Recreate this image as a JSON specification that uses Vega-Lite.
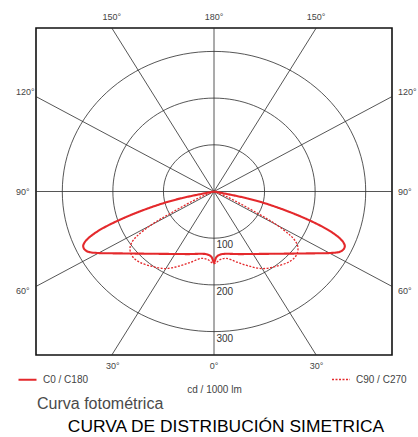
{
  "$schema": "https://vega.github.io/schema/vega-lite/v6.json",
  "autosize": {"type": "none"},
  "width": 356,
  "height": 327,
  "padding": {"left": 36, "top": 28, "right": 26, "bottom": 82},
  "background": "white",
  "config": {
    "view": {"stroke": "#111111", "strokeWidth": 1.6},
    "text": {"font": "Liberation Sans"},
    "axisX": {
      "labels": false, "ticks": false, "domain": false, "grid": false,
      "titleFont": "Liberation Sans", "titleFontSize": 10, "titleFontWeight": "normal",
      "titleColor": "#444444", "titlePadding": 29, "titleBaseline": "top"
    }
  },
  "title": {
    "text": "CURVA DE DISTRIBUCIÓN SIMETRICA",
    "orient": "bottom",
    "anchor": "middle",
    "frame": "group",
    "font": "Liberation Sans",
    "fontSize": 17.4,
    "fontWeight": "normal",
    "color": "#000000",
    "baseline": "alphabetic",
    "offset": 20,
    "dx": 12
  },
  "layer": [
    {
      "data": {"values": [{"r": 100}, {"r": 200}, {"r": 300}]},
      "mark": {
        "type": "point",
        "shape": "M 1 0 C 1 0.5101 0.5523 0.9235 0 0.9235 C -0.5523 0.9235 -1 0.5101 -1 0 C -1 -0.5101 -0.5523 -0.9235 0 -0.9235 C 0.5523 -0.9235 1 -0.5101 1 0 Z",
        "filled": false,
        "color": "#2b2b2b",
        "strokeWidth": 0.8,
        "opacity": 1
      },
      "encoding": {
        "x": {"datum": 0, "type": "quantitative", "scale": {"domain": [-352, 352], "nice": false, "zero": false}, "title": "cd / 1000 lm"},
        "y": {"datum": 0, "type": "quantitative", "scale": {"domain": [-350, 350], "nice": false, "zero": false}, "axis": null},
        "size": {"field": "r", "type": "quantitative", "scale": {"type": "pow", "exponent": 2, "domain": [0, 300], "range": [0, 92064]}, "legend": null}
      }
    },
    {
      "data": {"values": [
        {"x": 0, "y": -350, "x2": 0, "y2": 350},
        {"x": -202.1, "y": -350, "x2": 202.1, "y2": 350},
        {"x": 202.1, "y": -350, "x2": -202.1, "y2": 350},
        {"x": -352, "y": -203.2, "x2": 352, "y2": 203.2},
        {"x": 352, "y": -203.2, "x2": -352, "y2": 203.2},
        {"x": -352, "y": 0, "x2": 352, "y2": 0}
      ]},
      "mark": {"type": "rule", "color": "#2b2b2b", "strokeWidth": 0.8},
      "encoding": {
        "x": {"field": "x", "type": "quantitative", "title": "cd / 1000 lm"},
        "y": {"field": "y", "type": "quantitative", "axis": null},
        "x2": {"field": "x2"},
        "y2": {"field": "y2"}
      }
    },
    {
      "data": {"values": [
        {"series": "C0 / C180", "i": 1, "x": 0, "y": 0},
        {"series": "C0 / C180", "i": 2, "x": -67, "y": -15},
        {"series": "C0 / C180", "i": 3, "x": -117, "y": -31},
        {"series": "C0 / C180", "i": 4, "x": -180, "y": -57.5},
        {"series": "C0 / C180", "i": 5, "x": -229, "y": -84.4},
        {"series": "C0 / C180", "i": 6, "x": -250.5, "y": -102},
        {"series": "C0 / C180", "i": 7, "x": -256.5, "y": -110},
        {"series": "C0 / C180", "i": 8, "x": -258.7, "y": -117},
        {"series": "C0 / C180", "i": 9, "x": -256, "y": -124},
        {"series": "C0 / C180", "i": 10, "x": -249, "y": -129},
        {"series": "C0 / C180", "i": 11, "x": -232, "y": -131.5},
        {"series": "C0 / C180", "i": 12, "x": -185, "y": -132.5},
        {"series": "C0 / C180", "i": 13, "x": -120, "y": -133.3},
        {"series": "C0 / C180", "i": 14, "x": -54, "y": -134},
        {"series": "C0 / C180", "i": 15, "x": -14, "y": -134.5},
        {"series": "C0 / C180", "i": 16, "x": -5, "y": -140},
        {"series": "C0 / C180", "i": 17, "x": 0, "y": -152},
        {"series": "C0 / C180", "i": 18, "x": 5, "y": -140},
        {"series": "C0 / C180", "i": 19, "x": 14, "y": -134.5},
        {"series": "C0 / C180", "i": 20, "x": 54, "y": -134},
        {"series": "C0 / C180", "i": 21, "x": 120, "y": -133.3},
        {"series": "C0 / C180", "i": 22, "x": 185, "y": -132.5},
        {"series": "C0 / C180", "i": 23, "x": 232, "y": -131.5},
        {"series": "C0 / C180", "i": 24, "x": 249, "y": -129},
        {"series": "C0 / C180", "i": 25, "x": 256, "y": -124},
        {"series": "C0 / C180", "i": 26, "x": 258.7, "y": -117},
        {"series": "C0 / C180", "i": 27, "x": 256.5, "y": -110},
        {"series": "C0 / C180", "i": 28, "x": 250.5, "y": -102},
        {"series": "C0 / C180", "i": 29, "x": 229, "y": -84.4},
        {"series": "C0 / C180", "i": 30, "x": 180, "y": -57.5},
        {"series": "C0 / C180", "i": 31, "x": 117, "y": -31},
        {"series": "C0 / C180", "i": 32, "x": 67, "y": -15},
        {"series": "C0 / C180", "i": 33, "x": 0, "y": 0},
        {"series": "C90 / C270", "i": 1, "x": 0, "y": 0},
        {"series": "C90 / C270", "i": 2, "x": -25, "y": -11},
        {"series": "C90 / C270", "i": 3, "x": -85, "y": -46},
        {"series": "C90 / C270", "i": 4, "x": -122, "y": -70},
        {"series": "C90 / C270", "i": 5, "x": -152, "y": -95},
        {"series": "C90 / C270", "i": 6, "x": -163, "y": -110},
        {"series": "C90 / C270", "i": 7, "x": -166, "y": -120},
        {"series": "C90 / C270", "i": 8, "x": -165, "y": -131},
        {"series": "C90 / C270", "i": 9, "x": -159, "y": -142},
        {"series": "C90 / C270", "i": 10, "x": -146, "y": -152},
        {"series": "C90 / C270", "i": 11, "x": -120, "y": -161},
        {"series": "C90 / C270", "i": 12, "x": -96, "y": -165},
        {"series": "C90 / C270", "i": 13, "x": -70, "y": -160},
        {"series": "C90 / C270", "i": 14, "x": -45, "y": -151},
        {"series": "C90 / C270", "i": 15, "x": -24, "y": -143},
        {"series": "C90 / C270", "i": 16, "x": -12, "y": -146},
        {"series": "C90 / C270", "i": 17, "x": 0, "y": -154.5},
        {"series": "C90 / C270", "i": 18, "x": 12, "y": -146},
        {"series": "C90 / C270", "i": 19, "x": 24, "y": -143},
        {"series": "C90 / C270", "i": 20, "x": 45, "y": -151},
        {"series": "C90 / C270", "i": 21, "x": 70, "y": -160},
        {"series": "C90 / C270", "i": 22, "x": 96, "y": -165},
        {"series": "C90 / C270", "i": 23, "x": 120, "y": -161},
        {"series": "C90 / C270", "i": 24, "x": 146, "y": -152},
        {"series": "C90 / C270", "i": 25, "x": 159, "y": -142},
        {"series": "C90 / C270", "i": 26, "x": 165, "y": -131},
        {"series": "C90 / C270", "i": 27, "x": 166, "y": -120},
        {"series": "C90 / C270", "i": 28, "x": 163, "y": -110},
        {"series": "C90 / C270", "i": 29, "x": 152, "y": -95},
        {"series": "C90 / C270", "i": 30, "x": 122, "y": -70},
        {"series": "C90 / C270", "i": 31, "x": 85, "y": -46},
        {"series": "C90 / C270", "i": 32, "x": 25, "y": -11},
        {"series": "C90 / C270", "i": 33, "x": 0, "y": 0}
      ]},
      "mark": {"type": "line", "color": "#e4292c", "interpolate": "catmull-rom"},
      "encoding": {
        "x": {"field": "x", "type": "quantitative", "title": "cd / 1000 lm"},
        "y": {"field": "y", "type": "quantitative", "axis": null},
        "order": {"field": "i", "type": "quantitative"},
        "strokeDash": {
          "field": "series", "type": "nominal",
          "scale": {"domain": ["C0 / C180", "C90 / C270"], "range": [[1, 0], [2, 1.5]]},
          "legend": {
            "orient": "none", "legendX": -19, "legendY": 341, "direction": "horizontal",
            "title": null, "symbolType": "stroke", "symbolSize": 324,
            "symbolStrokeColor": "#e4292c", "symbolStrokeWidth": 1.8,
            "labelFont": "Liberation Sans", "labelFontSize": 10, "labelColor": "#444444",
            "labelOffset": 5, "columnPadding": 240, "padding": 0
          }
        },
        "strokeWidth": {
          "field": "series", "type": "nominal",
          "scale": {"domain": ["C0 / C180", "C90 / C270"], "range": [2.1, 1.3]},
          "legend": null
        }
      }
    },
    {
      "data": {"values": [
        {"label": "150°", "x": -202, "y": 374},
        {"label": "180°", "x": 0, "y": 374},
        {"label": "150°", "x": 202, "y": 374},
        {"label": "30°", "x": -200, "y": -374},
        {"label": "0°", "x": 0, "y": -374},
        {"label": "30°", "x": 203, "y": -374}
      ]},
      "mark": {"type": "text", "align": "center", "baseline": "middle", "fontSize": 9, "color": "#444444"},
      "encoding": {
        "x": {"field": "x", "type": "quantitative", "title": "cd / 1000 lm"},
        "y": {"field": "y", "type": "quantitative", "axis": null},
        "text": {"field": "label"}
      }
    },
    {
      "data": {"values": [
        {"label": "120°", "x": -391.5, "y": 213.7},
        {"label": "90°", "x": -391.5, "y": -2},
        {"label": "60°", "x": -391.5, "y": -213},
        {"label": "120°", "x": 364, "y": 213.7},
        {"label": "90°", "x": 364, "y": -2},
        {"label": "60°", "x": 364, "y": -213}
      ]},
      "mark": {"type": "text", "align": "left", "baseline": "middle", "fontSize": 9, "color": "#444444"},
      "encoding": {
        "x": {"field": "x", "type": "quantitative", "title": "cd / 1000 lm"},
        "y": {"field": "y", "type": "quantitative", "axis": null},
        "text": {"field": "label"}
      }
    },
    {
      "data": {"values": [
        {"label": "100", "y": -100},
        {"label": "200", "y": -200},
        {"label": "300", "y": -300}
      ]},
      "mark": {"type": "text", "align": "left", "baseline": "top", "dx": 2.5, "dy": 2, "fontSize": 10, "color": "#333333"},
      "encoding": {
        "x": {"datum": 0, "type": "quantitative", "title": "cd / 1000 lm"},
        "y": {"field": "y", "type": "quantitative", "axis": null},
        "text": {"field": "label"}
      }
    },
    {
      "data": {"values": [{"t": "Curva fotométrica"}]},
      "mark": {"type": "text", "align": "left", "baseline": "alphabetic", "fontSize": 16, "color": "#4a4a4a"},
      "encoding": {
        "x": {"datum": -350, "type": "quantitative", "title": "cd / 1000 lm"},
        "y": {"datum": -465.5, "type": "quantitative", "axis": null},
        "text": {"field": "t"}
      }
    }
  ]
}
